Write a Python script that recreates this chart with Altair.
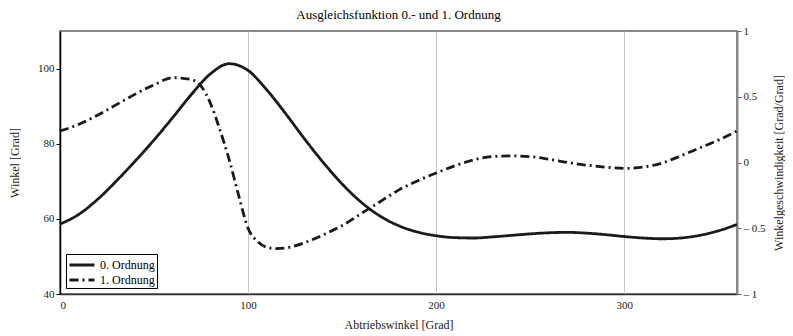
import altair as alt
import pandas as pd

# ---- data ----
reihen = ["0. Ordnung", "1. Ordnung"]

winkel_x = [0, 10, 20, 30, 40, 50, 60, 70, 80, 90, 100, 110, 120, 130, 140, 150,
            160, 170, 180, 190, 200, 210, 220, 230, 240, 250, 260, 270, 280, 290,
            300, 310, 320, 330, 340, 350, 360]
winkel_y = [58.6, 61.2, 65.2, 70.1, 75.4, 81.0, 87.0, 93.2, 98.6, 101.3, 99.5, 94.3,
            88.0, 81.3, 75.0, 69.3, 64.5, 60.8, 58.2, 56.5, 55.5, 55.0, 54.9, 55.2,
            55.6, 56.0, 56.3, 56.4, 56.2, 55.8, 55.3, 54.9, 54.7, 54.9, 55.6, 56.8,
            58.5]

geschw_x = [0, 10, 20, 30, 40, 50, 60, 70, 75, 80, 85, 90, 95, 100, 105, 110, 115,
            120, 130, 140, 150, 160, 170, 180, 190, 200, 210, 220, 230, 240, 250,
            260, 270, 280, 290, 300, 310, 320, 330, 340, 350, 360]
geschw_y = [0.24, 0.29, 0.36, 0.44, 0.52, 0.59, 0.645, 0.63, 0.58, 0.45, 0.25, 0.02,
            -0.25, -0.5, -0.6, -0.645, -0.655, -0.65, -0.61, -0.55, -0.48, -0.39,
            -0.3, -0.21, -0.14, -0.08, -0.025, 0.02, 0.045, 0.05, 0.045, 0.025, 0.0,
            -0.02, -0.035, -0.045, -0.035, -0.005, 0.05, 0.11, 0.17, 0.24]

x_ticks = [0, 100, 200, 300]
left_ticks = [40, 60, 80, 100]
right_ticks = [-1, -0.5, 0, 0.5, 1]

df0 = pd.DataFrame({"x": winkel_x, "y": winkel_y, "Reihe": reihen[0]})
df1 = pd.DataFrame({"x": geschw_x, "y": geschw_y, "Reihe": reihen[1]})

FONT = "Liberation Serif"
W, H = 677, 263

x_enc = alt.X(
    "x:Q",
    scale=alt.Scale(domain=[0, 360], nice=False, zero=False),
    axis=alt.Axis(
        title="Abtriebswinkel [Grad]", values=x_ticks, grid=True,
        gridColor="#c8c8c8", gridWidth=1, ticks=False, domainColor="#333333",
        domainWidth=1.5, labelPadding=5, titlePadding=9, format="d",
    ),
)

dash = alt.StrokeDash(
    "Reihe:N",
    scale=alt.Scale(domain=reihen, range=[[1, 0], [9, 4, 2, 4]]),
    legend=alt.Legend(
        title=None, orient="bottom-left", offset=6, strokeColor="black",
        fillColor="white", padding=2, symbolType="M-1,0H2.33", symbolStrokeWidth=3,
        symbolSize=225, symbolStrokeColor="#1a1a1a", labelFont=FONT,
        labelFontSize=12, labelColor="black", rowPadding=0, labelOffset=14,
    ),
)

line0 = alt.Chart(df0).mark_line(
    color="#1a1a1a", strokeWidth=2.8, interpolate="monotone"
).encode(
    x=x_enc,
    y=alt.Y(
        "y:Q",
        scale=alt.Scale(domain=[40, 110], nice=False, zero=False),
        axis=alt.Axis(
            title="Winkel [Grad]", orient="left", values=left_ticks, grid=False,
            domainColor="black", domainWidth=1.5, tickColor="black", tickSize=4,
            labelPadding=2, titleX=-46, titleY=H / 2, titleAlign="center",
            titleBaseline="middle", titleAngle=270,
        ),
    ),
    strokeDash=dash,
)

line1 = alt.Chart(df1).mark_line(
    color="#1a1a1a", strokeWidth=2.8, interpolate="monotone"
).encode(
    x=x_enc,
    y=alt.Y(
        "y:Q",
        scale=alt.Scale(domain=[-1, 1], nice=False, zero=False),
        axis=alt.Axis(
            title="Winkelgeschwindigkeit [Grad/Grad]", orient="right",
            values=right_ticks, grid=False, domainColor="#888888",
            domainWidth=2, tickColor="#555555", tickSize=4, labelPadding=2,
            labelExpr="datum.value < 0 ? '\u2013 ' + format(-datum.value, '') : format(datum.value, '')",
            titleX=41, titleY=H / 2, titleAlign="center",
            titleBaseline="middle", titleAngle=270,
        ),
    ),
    strokeDash=dash,
)

chart = (
    alt.layer(line0, line1)
    .resolve_scale(y="independent")
    .properties(
        width=W, height=H,
        autosize=alt.AutoSizeParams(type="none"),
        padding={"left": 52, "top": 23, "right": 48, "bottom": 40},
        background="white",
        title=alt.TitleParams(
            "Ausgleichsfunktion 0.- und 1. Ordnung", font=FONT, fontSize=13,
            fontWeight="normal", anchor="middle", offset=3, color="black",
        ),
    )
    .configure_view(stroke="#888888", strokeWidth=2)
    .configure_axis(
        labelFont=FONT, labelFontSize=11, labelColor="#222222",
        titleFont=FONT, titleFontSize=12, titleFontWeight="normal",
        titleColor="#222222",
    )
    .configure_legend(labelFont=FONT, labelFontSize=12, labelColor="black")
)

chart.save("out.html", embed_options={"renderer": "svg", "actions": False})
